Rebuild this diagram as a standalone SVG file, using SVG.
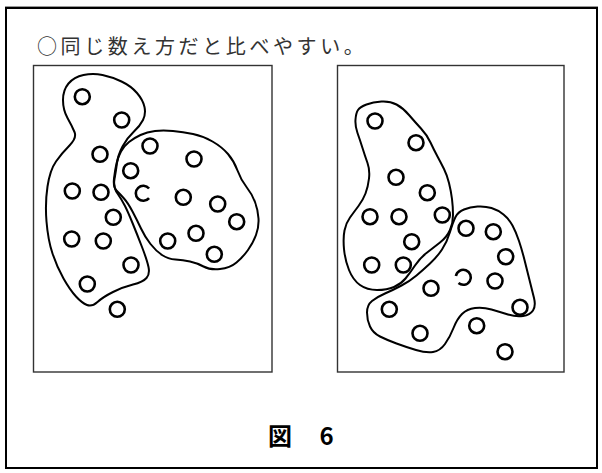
<svg xmlns="http://www.w3.org/2000/svg" width="602" height="473" viewBox="0 0 602 473">
<style>
.frame{fill:none;stroke:#000;stroke-width:2}
.panel{fill:none;stroke:#333;stroke-width:1.4}
.blob{fill:none;stroke:#000;stroke-width:2;stroke-linejoin:round}
.dot{fill:none;stroke:#000;stroke-width:2.6}
.title{font-family:"Noto Sans CJK JP","Noto Sans",sans-serif;font-size:20px;fill:#333;letter-spacing:3.6px}
.cap{font-family:"Noto Sans CJK JP","Noto Sans",sans-serif;font-size:24px;font-weight:bold;fill:#000}
</style>
<rect width="602" height="473" fill="#fff"/>
<g id="frame">
<line x1="5" y1="6.5" x2="598" y2="6.5" stroke="#999" stroke-width="1"/>
<rect class="frame" x="6" y="8" width="591" height="460"/>
</g>
<g id="title"><text class="title" x="37" y="54">○同じ数え方だと比べやすい。</text></g>
<g id="panel-left">
<rect class="panel" x="33.5" y="65.5" width="238.5" height="306.5"/>
<path class="blob" d="M83.5,75 Q93,73 102.5,75 Q112,77 121.5,81.5 Q131,86 137,93 Q143,100 144.5,107 Q146,114 143,120 Q140,126 133.5,132 Q127,138 122.5,146.5 Q118,155 117,163 Q116,171 114.5,179 Q113,187 117.5,193.5 Q122,200 125,206 Q128,212 132.5,223 Q137,234 142,247 Q147,260 148.5,267 Q150,274 146.5,278 Q143,282 133,284.5 Q123,287 113,292 Q103,297 97.5,302 Q92,307 87,305 Q82,303 76,296.5 Q70,290 63.5,278.5 Q57,267 52.5,253.5 Q48,240 46.5,221.5 Q45,203 47.5,186.5 Q50,170 56,161.5 Q62,153 69.5,145.5 Q77,138 74.5,132 Q72,126 67.5,118 Q63,110 63,100 Q63,90 68.5,83.5 Q74,77 83.5,75 Z"/>
<path class="blob" d="M116.5,190.5 Q113,187 114,178.5 Q115,170 116.5,163.5 Q118,157 121,151.5 Q124,146 129,142 Q134,138 140.5,135 Q147,132 155,131 Q163,130 173,131 Q183,132 193,134 Q203,136 212.5,141.5 Q222,147 228,154 Q234,161 237.5,170.5 Q241,180 246.5,187 Q252,194 255,202 Q258,210 258.5,218.5 Q259,227 256,235 Q253,243 248,250 Q243,257 236.5,262.5 Q230,268 220,269 Q210,270 203.5,266.5 Q197,263 190,261.5 Q183,260 175.5,259.5 Q168,259 162,255 Q156,251 150.5,244 Q145,237 141,228.5 Q137,220 132.5,211.5 Q128,203 124,198.5 Q120,194 116.5,190.5 Z"/>
<circle class="dot" cx="82.3" cy="96.7" r="7.5"/>
<circle class="dot" cx="121.7" cy="120" r="7.5"/>
<circle class="dot" cx="150" cy="146" r="7.5"/>
<circle class="dot" cx="100" cy="154.3" r="7.5"/>
<circle class="dot" cx="194" cy="159" r="7.5"/>
<circle class="dot" cx="130.7" cy="170.7" r="7.5"/>
<circle class="dot" cx="72.3" cy="191" r="7.5"/>
<circle class="dot" cx="101" cy="192.3" r="7.5"/>
<path class="dot" d="M149.05,188.48 A7.5,7.5 0 1 0 149.05,198.12"/>
<circle class="dot" cx="183.3" cy="197.3" r="7.5"/>
<circle class="dot" cx="217.7" cy="204" r="7.5"/>
<circle class="dot" cx="236.7" cy="221.7" r="7.5"/>
<circle class="dot" cx="113.3" cy="217.3" r="7.5"/>
<circle class="dot" cx="71.7" cy="239" r="7.5"/>
<circle class="dot" cx="103.3" cy="241" r="7.5"/>
<circle class="dot" cx="167.7" cy="241" r="7.5"/>
<circle class="dot" cx="196" cy="233.3" r="7.5"/>
<circle class="dot" cx="214.3" cy="254.3" r="7.5"/>
<circle class="dot" cx="131" cy="265" r="7.5"/>
<circle class="dot" cx="87.3" cy="284" r="7.5"/>
<circle class="dot" cx="117.3" cy="309.3" r="7.5"/>
</g>
<g id="panel-right">
<rect class="panel" x="337.5" y="65.5" width="226.5" height="306.5"/>
<path class="blob" d="M358,110 Q360,107 366.5,104.5 Q373,102 381.5,101.5 Q390,101 396.5,104.5 Q403,108 409,115 Q415,122 421,128.5 Q427,135 430.5,142.5 Q434,150 437.5,156.5 Q441,163 444,169 Q447,175 449,183 Q451,191 452,199 Q453,207 453,215 Q453,223 450,230 Q447,237 440,242.5 Q433,248 426.5,253 Q420,258 415,265.5 Q410,273 405.5,278.5 Q401,284 394,287 Q387,290 377,290 Q367,290 360,285 Q353,280 349,270 Q345,260 344,249 Q343,238 344.5,230.5 Q346,223 350,217.5 Q354,212 358.5,206 Q363,200 365.5,193.5 Q368,187 369,178.5 Q370,170 367.5,163 Q365,156 362.5,148 Q360,140 357.5,133 Q355,126 355.5,119.5 Q356,113 358,110 Z"/>
<path class="blob" d="M450,232 Q453,222 455.5,217 Q458,212 464,209.5 Q470,207 477.5,206.5 Q485,206 491.5,208 Q498,210 503.5,214.5 Q509,219 512.5,225.5 Q516,232 519,241 Q522,250 524.5,260 Q527,270 529.5,280 Q532,290 534,298 Q536,306 533,310.5 Q530,315 523,316 Q516,317 508,314.5 Q500,312 491.5,309.5 Q483,307 475,308 Q467,309 462,314 Q457,319 453.5,328 Q450,337 445,344 Q440,351 433,352 Q426,353 416,350 Q406,347 396.5,343.5 Q387,340 380,336.5 Q373,333 370,326.5 Q367,320 367,312.5 Q367,305 372,301 Q377,297 385,293.5 Q393,290 401.5,285.5 Q410,281 416.5,275.5 Q423,270 430,263.5 Q437,257 442,249.5 Q447,242 450,232 Z"/>
<circle class="dot" cx="375" cy="121" r="7.5"/>
<circle class="dot" cx="416" cy="142.7" r="7.5"/>
<circle class="dot" cx="396" cy="177.3" r="7.5"/>
<circle class="dot" cx="427.3" cy="192.7" r="7.5"/>
<circle class="dot" cx="370" cy="216.7" r="7.5"/>
<circle class="dot" cx="399" cy="216.7" r="7.5"/>
<circle class="dot" cx="442.3" cy="215" r="7.5"/>
<circle class="dot" cx="466" cy="228.3" r="7.5"/>
<circle class="dot" cx="493.3" cy="231.7" r="7.5"/>
<circle class="dot" cx="411.7" cy="241.7" r="7.5"/>
<circle class="dot" cx="505.7" cy="256.7" r="7.5"/>
<circle class="dot" cx="371.7" cy="265" r="7.5"/>
<circle class="dot" cx="403.3" cy="265" r="7.5"/>
<path class="dot" d="M455.91,276 A7.5,7.5 0 1 1 458.48,283.05"/>
<circle class="dot" cx="495" cy="281" r="7.5"/>
<circle class="dot" cx="431" cy="288.3" r="7.5"/>
<circle class="dot" cx="389.3" cy="309.3" r="7.5"/>
<circle class="dot" cx="520" cy="307.3" r="7.5"/>
<circle class="dot" cx="476.7" cy="325.7" r="7.5"/>
<circle class="dot" cx="420" cy="333.3" r="7.5"/>
<circle class="dot" cx="505" cy="351.7" r="7.5"/>
</g>
<g id="caption"><text class="cap" x="268" y="445" word-spacing="22">図 6</text></g>
</svg>
